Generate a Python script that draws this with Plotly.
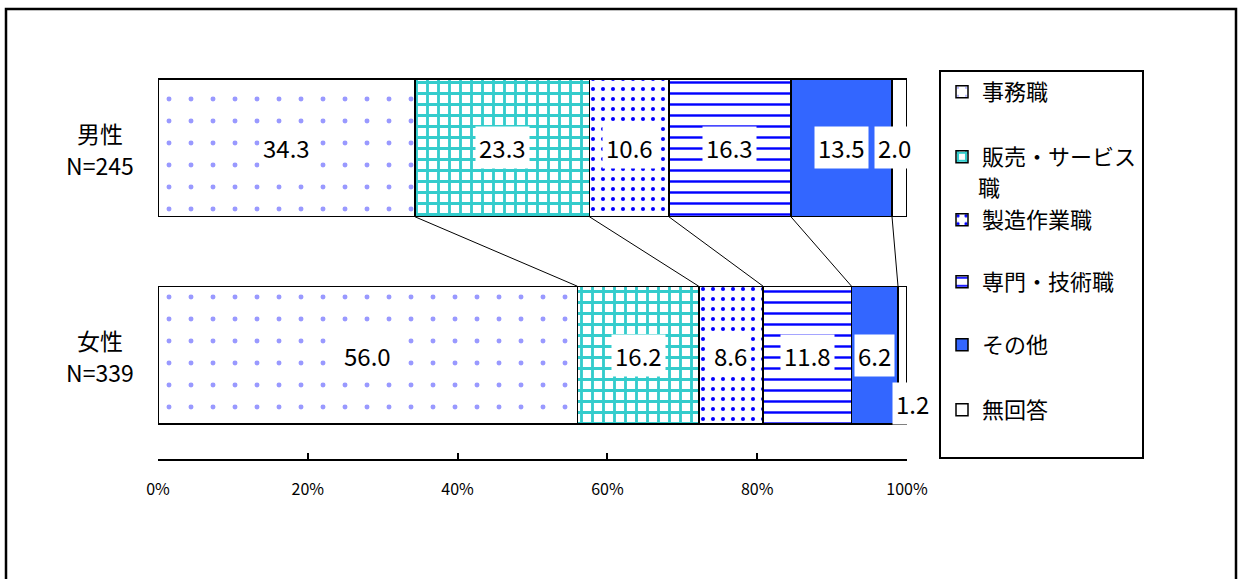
import plotly.graph_objects as go

# ---- data ----
groups = ["男性", "女性"]
group_n = [245, 339]
categories = ["事務職", "販売・サービス職", "製造作業職", "専門・技術職", "その他", "無回答"]
male = [34.3, 23.3, 10.6, 16.3, 13.5, 2.0]
female = [56.0, 16.2, 8.6, 11.8, 6.2, 1.2]
tick_values = [0, 20, 40, 60, 80, 100]
tick_labels = [f"{v}%" for v in tick_values]

# ---- geometry helpers (pixel -> paper) ----
W, H = 1239, 579
ML, MR, MT, MB = 158, 332, 44, 120
PW, PH = W - ML - MR, H - MT - MB


def px(x):
    return (x - ML) / PW


def py(y):
    return (H - MB - y) / PH


FONT = "Noto Sans CJK JP, Noto Sans, sans-serif"
BAR_WIDTH = 0.665
Y_POS = [1, 0]  # 男性 on top, 女性 below
LEGEND_WRAP = 7  # legend entries longer than this wrap onto a second line


def pat(shape, color, size, solidity):
    return dict(shape=shape, fgcolor=color, bgcolor="white", size=size,
                solidity=solidity, fillmode="overlay", fgopacity=1)


styles = [
    dict(color="white", pattern=pat(".", "#9999FF", 22, 0.04)),
    dict(color="white", pattern=pat("+", "#33CCCC", 11, 0.45)),
    dict(color="white", pattern=pat(".", "#0000FF", 10, 0.13)),
    dict(color="white", pattern=pat("-", "#0000FF", 11, 0.22)),
    dict(color="#3366FF"),
    dict(color="white"),
]

legend_centers = [92, 157, 220, 282, 345, 410]

annotations = []
fig = go.Figure()
for i, cat in enumerate(categories):
    mk = dict(line=dict(color="black", width=1.5), **styles[i])
    first, rest = cat[:LEGEND_WRAP], cat[LEGEND_WRAP:]
    fig.add_trace(go.Bar(
        name=first,
        y=Y_POS,
        x=[male[i], female[i]],
        orientation="h",
        width=BAR_WIDTH,
        marker=mk,
        legend="legend" if i == 0 else f"legend{i + 1}",
        hoverinfo="skip",
    ))
    if rest:
        # continuation line of a wrapped legend entry
        annotations.append(dict(
            x=px(976), y=py(legend_centers[i] + 29), xref="paper", yref="paper", text=rest,
            showarrow=False, xanchor="left", yanchor="middle",
            font=dict(family=FONT, size=22, color="black"),
        ))

# series lines joining the segment boundaries of the two bars
cum_m, cum_f = [], []
sm = sf = 0.0
for a, b in zip(male, female):
    sm += a
    sf += b
    cum_m.append(round(sm, 1))
    cum_f.append(round(sf, 1))
lx, ly = [], []
half = BAR_WIDTH / 2
for a, b in zip(cum_m[:-1], cum_f[:-1]):
    lx += [a, b, None]
    ly += [Y_POS[0] - half, Y_POS[1] + half, None]
fig.add_trace(go.Scatter(x=lx, y=ly, mode="lines", line=dict(color="black", width=1),
                         showlegend=False, hoverinfo="skip"))

# value labels
for vals, yv in ((male, Y_POS[0]), (female, Y_POS[1])):
    start = 0.0
    for i, v in enumerate(vals):
        center = start + v / 2
        start += v
        xs, ys = 0, 0
        if v < 1.5:
            xs, ys = 10, -48
        elif v < 3:
            xs = -5
        annotations.append(dict(
            x=center, y=yv, xref="x", yref="y", text=f"{v:.1f}", showarrow=False,
            bgcolor="white", borderpad=3, xshift=xs, yshift=ys,
            font=dict(family=FONT, size=24, color="black"),
        ))

# group labels (name above, sample size below)
for g, n, yv in zip(groups, group_n, Y_POS):
    for txt, dy in ((g, 15), (f"N={n}", -17)):
        annotations.append(dict(
            x=px(100), y=yv, xref="paper", yref="y", text=txt, showarrow=False,
            xanchor="center", yshift=dy, font=dict(family=FONT, size=23, color="black"),
        ))

shapes = [
    # chart border
    dict(type="rect", xref="paper", yref="paper", x0=px(6), x1=px(1236), y0=py(590), y1=py(9),
         line=dict(color="black", width=2.5), fillcolor="rgba(0,0,0,0)", layer="below"),
    # legend box
    dict(type="rect", xref="paper", yref="paper", x0=px(940), x1=px(1143), y0=py(458), y1=py(71),
         line=dict(color="black", width=2), fillcolor="rgba(0,0,0,0)"),
]

layout_legends = {}
for i, yc in enumerate(legend_centers):
    key = "legend" if i == 0 else f"legend{i + 1}"
    layout_legends[key] = dict(
        x=px(942), y=py(yc), xanchor="left", yanchor="middle",
        bgcolor="rgba(0,0,0,0)", borderwidth=0,
        font=dict(family=FONT, size=22, color="black"),
    )

fig.update_layout(
    width=W, height=H,
    margin=dict(l=ML, r=MR, t=MT, b=MB),
    paper_bgcolor="white", plot_bgcolor="white",
    barmode="stack", showlegend=True,
    xaxis=dict(range=[0, 100], tickvals=tick_values, ticktext=tick_labels, showgrid=False, zeroline=False,
               showline=True, linecolor="black", linewidth=2, ticks="inside", ticklen=6,
               tickcolor="black", tickwidth=1.5, ticklabelstandoff=15,
               tickfont=dict(family=FONT, size=16, color="black")),
    yaxis=dict(range=[-0.5, 1.5], showticklabels=False, showgrid=False, zeroline=False, showline=False),
    annotations=annotations,
    shapes=shapes,
    **layout_legends,
)

fig.write_html("out.html")
